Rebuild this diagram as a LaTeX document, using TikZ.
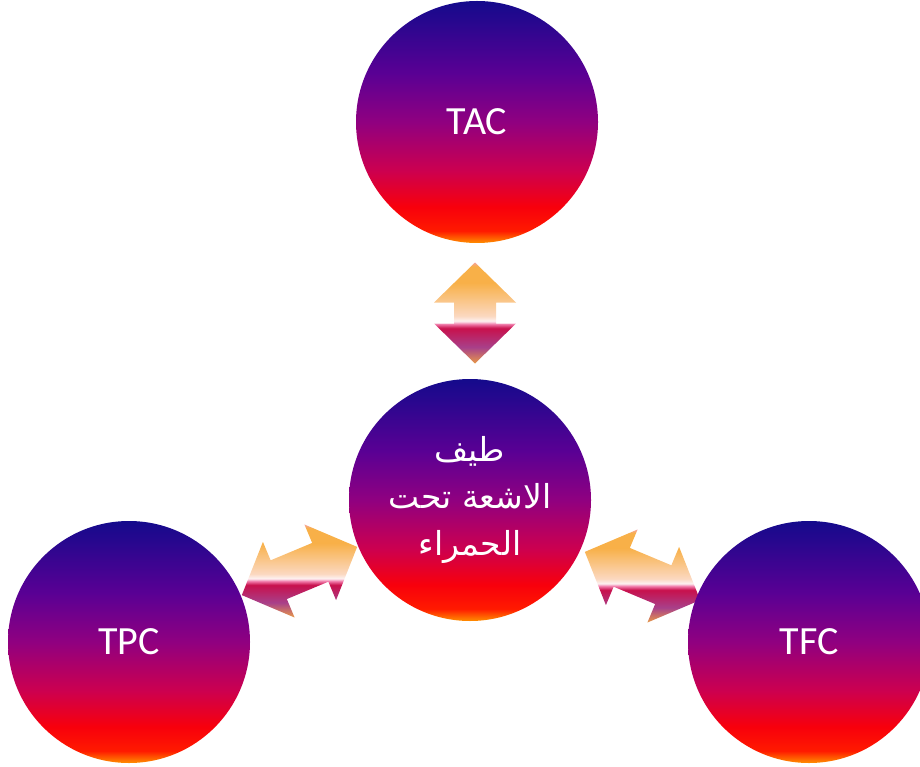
\documentclass[tikz,border=0pt]{standalone}
\usepackage{fontspec}
\newfontfamily\labelfont{Carlito}
\newfontfamily\arabicfont[Script=Arabic]{DejaVu Sans}
\TeXXeTstate=1
\usepackage{tikz}
\usetikzlibrary{calc,backgrounds}
\definecolor{onavy}{HTML}{140A8C}
\definecolor{opurple}{HTML}{5A0094}
\definecolor{omagenta}{HTML}{900080}
\definecolor{ocrimson}{HTML}{CC0050}
\definecolor{ored}{HTML}{F8000C}
\definecolor{ored2}{HTML}{FF1A00}
\definecolor{oorange}{HTML}{FF9000}
\definecolor{apink}{HTML}{F6A49C}
\definecolor{aorange}{HTML}{F8B048}
\definecolor{alight}{HTML}{FBD8C0}
\definecolor{awhite}{HTML}{FDF2F2}
\definecolor{astripe}{HTML}{F078A8}
\definecolor{acrimson}{HTML}{C8104C}
\definecolor{aplum}{HTML}{A8408A}
\definecolor{atip}{HTML}{E89A48}
\pgfdeclareverticalshading{orbshade}{100bp}{color(0bp)=(oorange); color(25bp)=(oorange); color(27.5bp)=(ored2); color(32.5bp)=(ored); color(40bp)=(ocrimson); color(50bp)=(omagenta); color(60bp)=(opurple); color(75bp)=(onavy); color(100bp)=(onavy)}
\pgfdeclareverticalshading{arrowshade}{100bp}{color(0bp)=(atip); color(25bp)=(atip); color(33bp)=(aplum); color(42.5bp)=(acrimson); color(44.5bp)=(astripe); color(46bp)=(awhite); color(48.5bp)=(alight); color(65bp)=(aorange); color(73bp)=(aorange); color(75bp)=(apink); color(100bp)=(apink)}
\tikzset{
  orb/.style={circle, minimum size=242pt, inner sep=0pt, shading=orbshade, text=white},
  latin/.style={font=\labelfont\fontsize{40}{48}\selectfont},
  arabic/.style={font=\arabicfont\fontsize{33}{47}\selectfont, align=center},
  biarrow/.style={shading=arrowshade}
}
% Arrow sizes
\def\hl{40}  % head length
\def\hw{41}  % head half-width
\def\sw{21}  % shaft half-width
% double arrow: center, angle, half length
\newcommand{\biarrow}[3]{%
  \shade[biarrow] ($(#1)+({#2}:{#3})$)
    -- ($(#1)+({#2}:{#3-\hl})+({#2+90}:\hw)$) -- ($(#1)+({#2}:{#3-\hl})+({#2+90}:\sw)$)
    -- ($(#1)+({#2}:{\hl-#3})+({#2+90}:\sw)$) -- ($(#1)+({#2}:{\hl-#3})+({#2+90}:\hw)$)
    -- ($(#1)-({#2}:{#3})$)
    -- ($(#1)+({#2}:{\hl-#3})+({#2-90}:\hw)$) -- ($(#1)+({#2}:{\hl-#3})+({#2-90}:\sw)$)
    -- ($(#1)+({#2}:{#3-\hl})+({#2-90}:\sw)$) -- ($(#1)+({#2}:{#3-\hl})+({#2-90}:\hw)$)
    -- cycle;}
\begin{document}
\begin{tikzpicture}[x=1pt, y=-1pt]
  \useasboundingbox (0,0) rectangle (920,767);
  \clip (0,0) rectangle (920,767);

  % Draw the four circles
  \node[orb, latin] (tac) at (477,122) {TAC};
  \node[orb, arabic] (core) at (470,500) {\beginR طيف\endR\\ \beginR الاشعة تحت\endR\\ \beginR الحمراء\endR};
  \node[orb, latin] (tpc) at (129,642) {TPC};
  \node[orb, latin] (tfc) at (809,642) {TFC};

  % Draw the double arrows behind the circles
  \begin{scope}[on background layer]
    \coordinate (up) at ($(core)!0.5!(tac)+(1.5,2)$);
    \coordinate (lt) at ($(core)!0.5!(tpc)$);
    \coordinate (rt) at ($(core)!0.5!(tfc)+(3,5)$);
    \biarrow{up}{90}{50.5}
    \biarrow{lt}{-22.7}{62.5}
    \biarrow{rt}{22.7}{62.5}
  \end{scope}
\end{tikzpicture}
\end{document}
